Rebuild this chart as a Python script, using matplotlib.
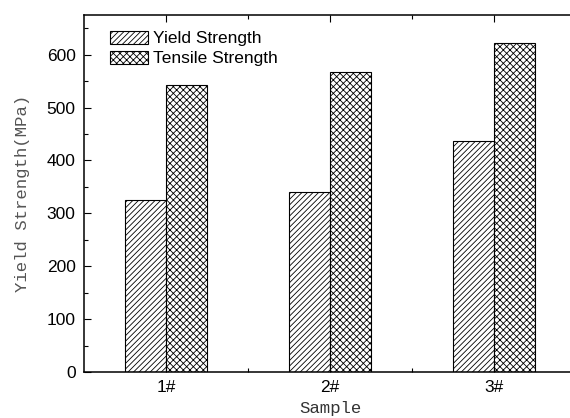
import matplotlib
matplotlib.use("Agg")
import matplotlib.pyplot as plt
import numpy as np
from matplotlib.ticker import MultipleLocator, FixedLocator

samples = ["1#", "2#", "3#"]
yield_strength = [325, 340, 437]
tensile_strength = [543, 568, 623]

plt.rcParams['hatch.linewidth'] = 0.6
fig = plt.figure(figsize=(5.70, 4.18), dpi=100)
ax = fig.add_axes([84/570, 46/418, 492/570, 357/418])

x = np.arange(1, len(samples) + 1)
w = 0.25
ax.bar(x - w/2, yield_strength, w, facecolor='white', edgecolor='black',
       hatch='//////', linewidth=0.8, label='Yield Strength')
ax.bar(x + w/2, tensile_strength, w, facecolor='white', edgecolor='black',
       hatch='xxxxx', linewidth=0.8, label='Tensile Strength')

ax.set_xlim(0.5, 3.5)
ax.set_ylim(0, 675)
ax.set_xticks(x)
ax.set_xticklabels(samples, fontfamily='Liberation Sans', fontsize=12.5)
ax.xaxis.set_minor_locator(FixedLocator([1.5, 2.5]))
ax.yaxis.set_major_locator(MultipleLocator(100))
ax.yaxis.set_minor_locator(MultipleLocator(50))
for lab in ax.get_yticklabels():
    lab.set_fontfamily('Liberation Sans')
    lab.set_fontsize(12.5)

ax.tick_params(which='both', direction='in', top=True, right=False, width=0.8)
ax.tick_params(which='major', length=5, pad=6)
ax.tick_params(which='minor', length=3)
for s in ax.spines.values():
    s.set_linewidth(1.1)

ax.set_ylabel('Yield Strength(MPa)', fontfamily='Liberation Mono', fontsize=12.5,
              color='#555555', labelpad=12)
ax.set_xlabel('Sample', fontfamily='Liberation Mono', fontsize=12.5,
              color='#333333', labelpad=4)

leg = ax.legend(loc='upper left', bbox_to_anchor=(0.053, 0.955), frameon=False,
                borderaxespad=0, borderpad=0, handlelength=2.2, handleheight=0.75,
                handletextpad=0.3, labelspacing=0.25,
                prop={'family': 'Liberation Sans', 'size': 12.5})

fig.savefig('out.png', dpi=100)
